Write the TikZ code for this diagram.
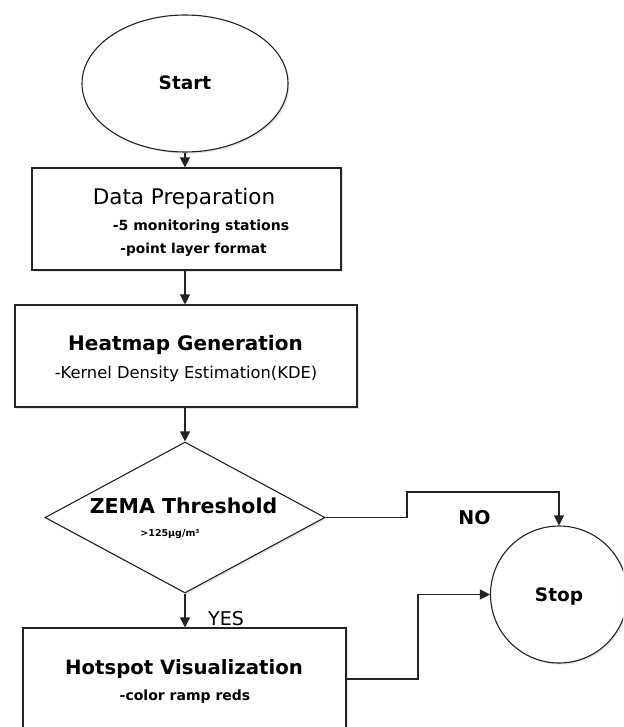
\documentclass[tikz,border=0pt]{standalone}
\usepackage{fontspec}
\setmainfont{DejaVu Sans}
\usetikzlibrary{shapes.geometric,arrows.meta,shadows}
\newcommand{\fsz}[1]{\fontsize{#1}{#1}\selectfont}
\definecolor{linec}{RGB}{35,35,35}
\tikzset{
  shp/.style={draw=linec, line width=1.1pt, fill=white, inner sep=0pt,
    drop shadow={shadow xshift=1.6pt, shadow yshift=-1.6pt, opacity=.2, fill=gray}},
  boxnode/.style={shp, rectangle},
  conn/.style={draw=linec, line width=1.1pt, -{Triangle[length=10pt,width=10pt]}},
  txt/.style={anchor=base, inner sep=0pt, text=black},
}
\begin{document}
\begin{tikzpicture}[x=1pt,y=-1pt]
\useasboundingbox (0,0) rectangle (623,727);
\clip (0,0) rectangle (623,727);
\fill[white] (0,0) rectangle (623,727);

% shapes
\node[shp, ellipse, minimum width=206pt, minimum height=137pt] (start) at (185,83.5) {};
\node[boxnode, minimum width=309pt, minimum height=102pt] (dp) at (186.5,219) {};
\node[boxnode, minimum width=342pt, minimum height=102pt] (hm) at (186,356) {};
\node[shp, diamond, minimum width=280pt, minimum height=151pt] (zema) at (185,517.5) {};
\node[boxnode, minimum width=323pt, minimum height=140pt] (hs) at (184.5,698) {};
\node[shp, circle, minimum size=137pt] (stop) at (559,594.5) {};

% texts
\node[txt] (tstart) at (185,89.8) {\fsz{18.5pt}\bfseries Start};
\node[txt] (tdp) at (184,204.5) {\fsz{21.5pt}Data Preparation};
\node[txt] (tdp1) at (201,230) {\fsz{14pt}\bfseries -5 monitoring stations};
\node[txt] (tdp2) at (193.5,253) {\fsz{13.7pt}\bfseries -point layer format};
\node[txt] (thm) at (185.5,350) {\fsz{20pt}\bfseries Heatmap Generation};
\node[txt] (thm1) at (186,378) {\fsz{16.3pt}-Kernel Density Estimation(KDE)};
\node[txt] (tz) at (183.5,513.5) {\fsz{20.5pt}\bfseries ZEMA Threshold};
\node[txt] (tz1) at (170,536.5) {\fsz{9.5pt}\bfseries >125μg/m³};
\node[txt] (ths) at (184,674) {\fsz{19.7pt}\bfseries Hotspot Visualization};
\node[txt] (ths1) at (185,700) {\fsz{14pt}\bfseries -color ramp reds};
\node[txt] (tstop) at (559,601) {\fsz{18.5pt}\bfseries Stop};
\node[txt] (tno) at (474.5,524) {\fsz{19pt}\bfseries NO};
\node[txt, anchor=base west] (tyes) at (208,625.5) {\fsz{19pt}YES};

% connectors
\draw[conn] (start.south) -- (start.south |- dp.north);
\draw[conn] (dp.south -| start.south) -- (start.south |- hm.north);
\draw[conn] (hm.south -| start.south) -- (zema.north);
\draw[conn] (zema.south) -- (zema.south |- hs.north);
\coordinate (nobend) at (559,492);
\draw[conn] (zema.east) -- (407,517.5) |- (nobend) -- (stop.north);
\coordinate (hsout) at (346,679);
\draw[conn] (hsout) -- (418,679) |- (stop.west);
\end{tikzpicture}
\end{document}
